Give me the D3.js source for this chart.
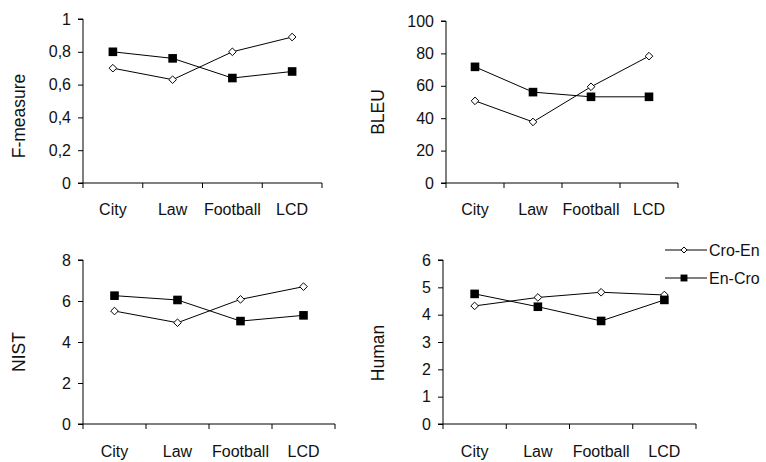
<!DOCTYPE html>
<html>
<head>
<meta charset="utf-8">
<script src="https://cdn.jsdelivr.net/npm/d3@7"></script>
<style>
  body { margin: 0; background: #fff; }
  text { font-family: "Liberation Sans", Arial, sans-serif; fill: #111; }
</style>
</head>
<body>
<div id="container"></div>
<script>
const categories = ['City', 'Law', 'Football', 'LCD']
const seriesNames = ['Cro-En', 'En-Cro']

const fMeasureCroEn = [0.70, 0.63, 0.80, 0.89]
const fMeasureEnCro = [0.80, 0.76, 0.64, 0.68]
const bleuCroEn = [50.7, 37.7, 59.4, 78.3]
const bleuEnCro = [71.7, 56.1, 53.2, 53.2]
const nistCroEn = [5.51, 4.94, 6.08, 6.70]
const nistEnCro = [6.26, 6.05, 5.02, 5.30]
const humanCroEn = [4.32, 4.63, 4.82, 4.72]
const humanEnCro = [4.76, 4.29, 3.77, 4.54]

const fMeasureTicks = [0, 0.2, 0.4, 0.6, 0.8, 1]
const bleuTicks = [0, 20, 40, 60, 80, 100]
const nistTicks = [0, 2, 4, 6, 8]
const humanTicks = [0, 1, 2, 3, 4, 5, 6]

const width = 766
const height = 462

const svg = d3.select('#container')
  .append('svg')
  .attr('width', width)
  .attr('height', height)

// panel layout (axis origin, plot width, top)
const panels = [
  { title: 'F-measure', series: [fMeasureCroEn, fMeasureEnCro], ticks: fMeasureTicks,
    fmt: d => String(d).replace('.', ','), x0: 83, x1: 322, top: 19, bottom: 183, titleX: 19, titleY: 116, labelY: 32 },
  { title: 'BLEU', series: [bleuCroEn, bleuEnCro], ticks: bleuTicks,
    fmt: d => d, x0: 446, x1: 678, top: 21, bottom: 183, titleX: 378, titleY: 112, labelY: 32 },
  { title: 'NIST', series: [nistCroEn, nistEnCro], ticks: nistTicks,
    fmt: d => d, x0: 83, x1: 335, top: 260, bottom: 424, titleX: 19, titleY: 352, labelY: 33 },
  { title: 'Human', series: [humanCroEn, humanEnCro], ticks: humanTicks,
    fmt: d => d, x0: 443, x1: 696, top: 260, bottom: 424, titleX: 378, titleY: 353, labelY: 33 }
]

function drawMarker (g, kind, x, y, s) {
  if (kind === 0) {
    const r = 3.8 * s
    g.append('path')
      .attr('d', `M${x},${y - r}L${x + r},${y}L${x},${y + r}L${x - r},${y}Z`)
      .attr('fill', '#fff')
      .attr('stroke', '#000')
      .attr('stroke-width', 1)
  } else {
    const h = 4.3 * s
    g.append('rect')
      .attr('x', x - h)
      .attr('y', y - h)
      .attr('width', 2 * h)
      .attr('height', 2 * h)
      .attr('fill', '#000')
  }
}

panels.forEach(function (p) {
  const g = svg.append('g')
  const x = d3.scaleBand().domain(categories).range([p.x0, p.x1])
  const y = d3.scaleLinear()
    .domain([0, d3.max(p.ticks)])
    .range([p.bottom, p.top])

  // y axis
  const yAxis = g.append('g')
    .attr('transform', `translate(${p.x0},0)`)
    .call(d3.axisLeft(y).tickValues(p.ticks).tickFormat(p.fmt).tickSize(5).tickPadding(7))
  yAxis.select('.domain').attr('d', `M-5,${p.top}H0V${p.bottom}`).attr('stroke', '#000')
  yAxis.selectAll('text').attr('font-size', 16).attr('fill', '#111')
    .attr('font-family', '"Liberation Sans", Arial, sans-serif')

  // x axis with ticks between categories
  const xAxisG = g.append('g').attr('transform', `translate(0,${p.bottom})`)
  xAxisG.append('line')
    .attr('x1', p.x0 - 5).attr('x2', p.x1)
    .attr('stroke', '#000')
  const edges = categories.map(c => x(c)).concat([p.x1])
  xAxisG.selectAll('.xtick')
    .data(edges)
    .enter()
    .append('line')
    .attr('class', 'xtick')
    .attr('x1', d => d).attr('x2', d => d)
    .attr('y1', 0).attr('y2', 5)
    .attr('stroke', '#000')
  xAxisG.selectAll('.xlabel')
    .data(categories)
    .enter()
    .append('text')
    .attr('class', 'xlabel')
    .attr('x', d => x(d) + x.bandwidth() / 2)
    .attr('y', p.labelY)
    .attr('text-anchor', 'middle')
    .attr('font-size', 16)
    .text(d => d)

  // axis title
  g.append('text')
    .attr('transform', `translate(${p.titleX},${p.titleY}) rotate(-90)`)
    .attr('text-anchor', 'middle')
    .attr('dominant-baseline', 'central')
    .attr('font-size', 17.5)
    .text(p.title)

  const line = d3.line()
    .x((d, i) => x(categories[i]) + x.bandwidth() / 2)
    .y(d => y(d))

  p.series.forEach(function (values) {
    g.append('path')
      .datum(values)
      .attr('d', line)
      .attr('fill', 'none')
      .attr('stroke', '#000')
      .attr('stroke-width', 1)
  })
  p.series.forEach(function (values, k) {
    values.forEach(function (v, i) {
      drawMarker(g, k, x(categories[i]) + x.bandwidth() / 2, y(v), 1)
    })
  })
})

// legend
const legend = svg.append('g')
seriesNames.forEach(function (name, k) {
  const ly = 250 + k * 28
  legend.append('line')
    .attr('x1', 665).attr('x2', 707)
    .attr('y1', ly).attr('y2', ly)
    .attr('stroke', '#000')
  drawMarker(legend, k, 684, ly, 0.8)
  legend.append('text')
    .attr('x', 709)
    .attr('y', ly)
    .attr('dominant-baseline', 'central')
    .attr('font-size', 16)
    .text(name)
})
</script>
</body>
</html>
